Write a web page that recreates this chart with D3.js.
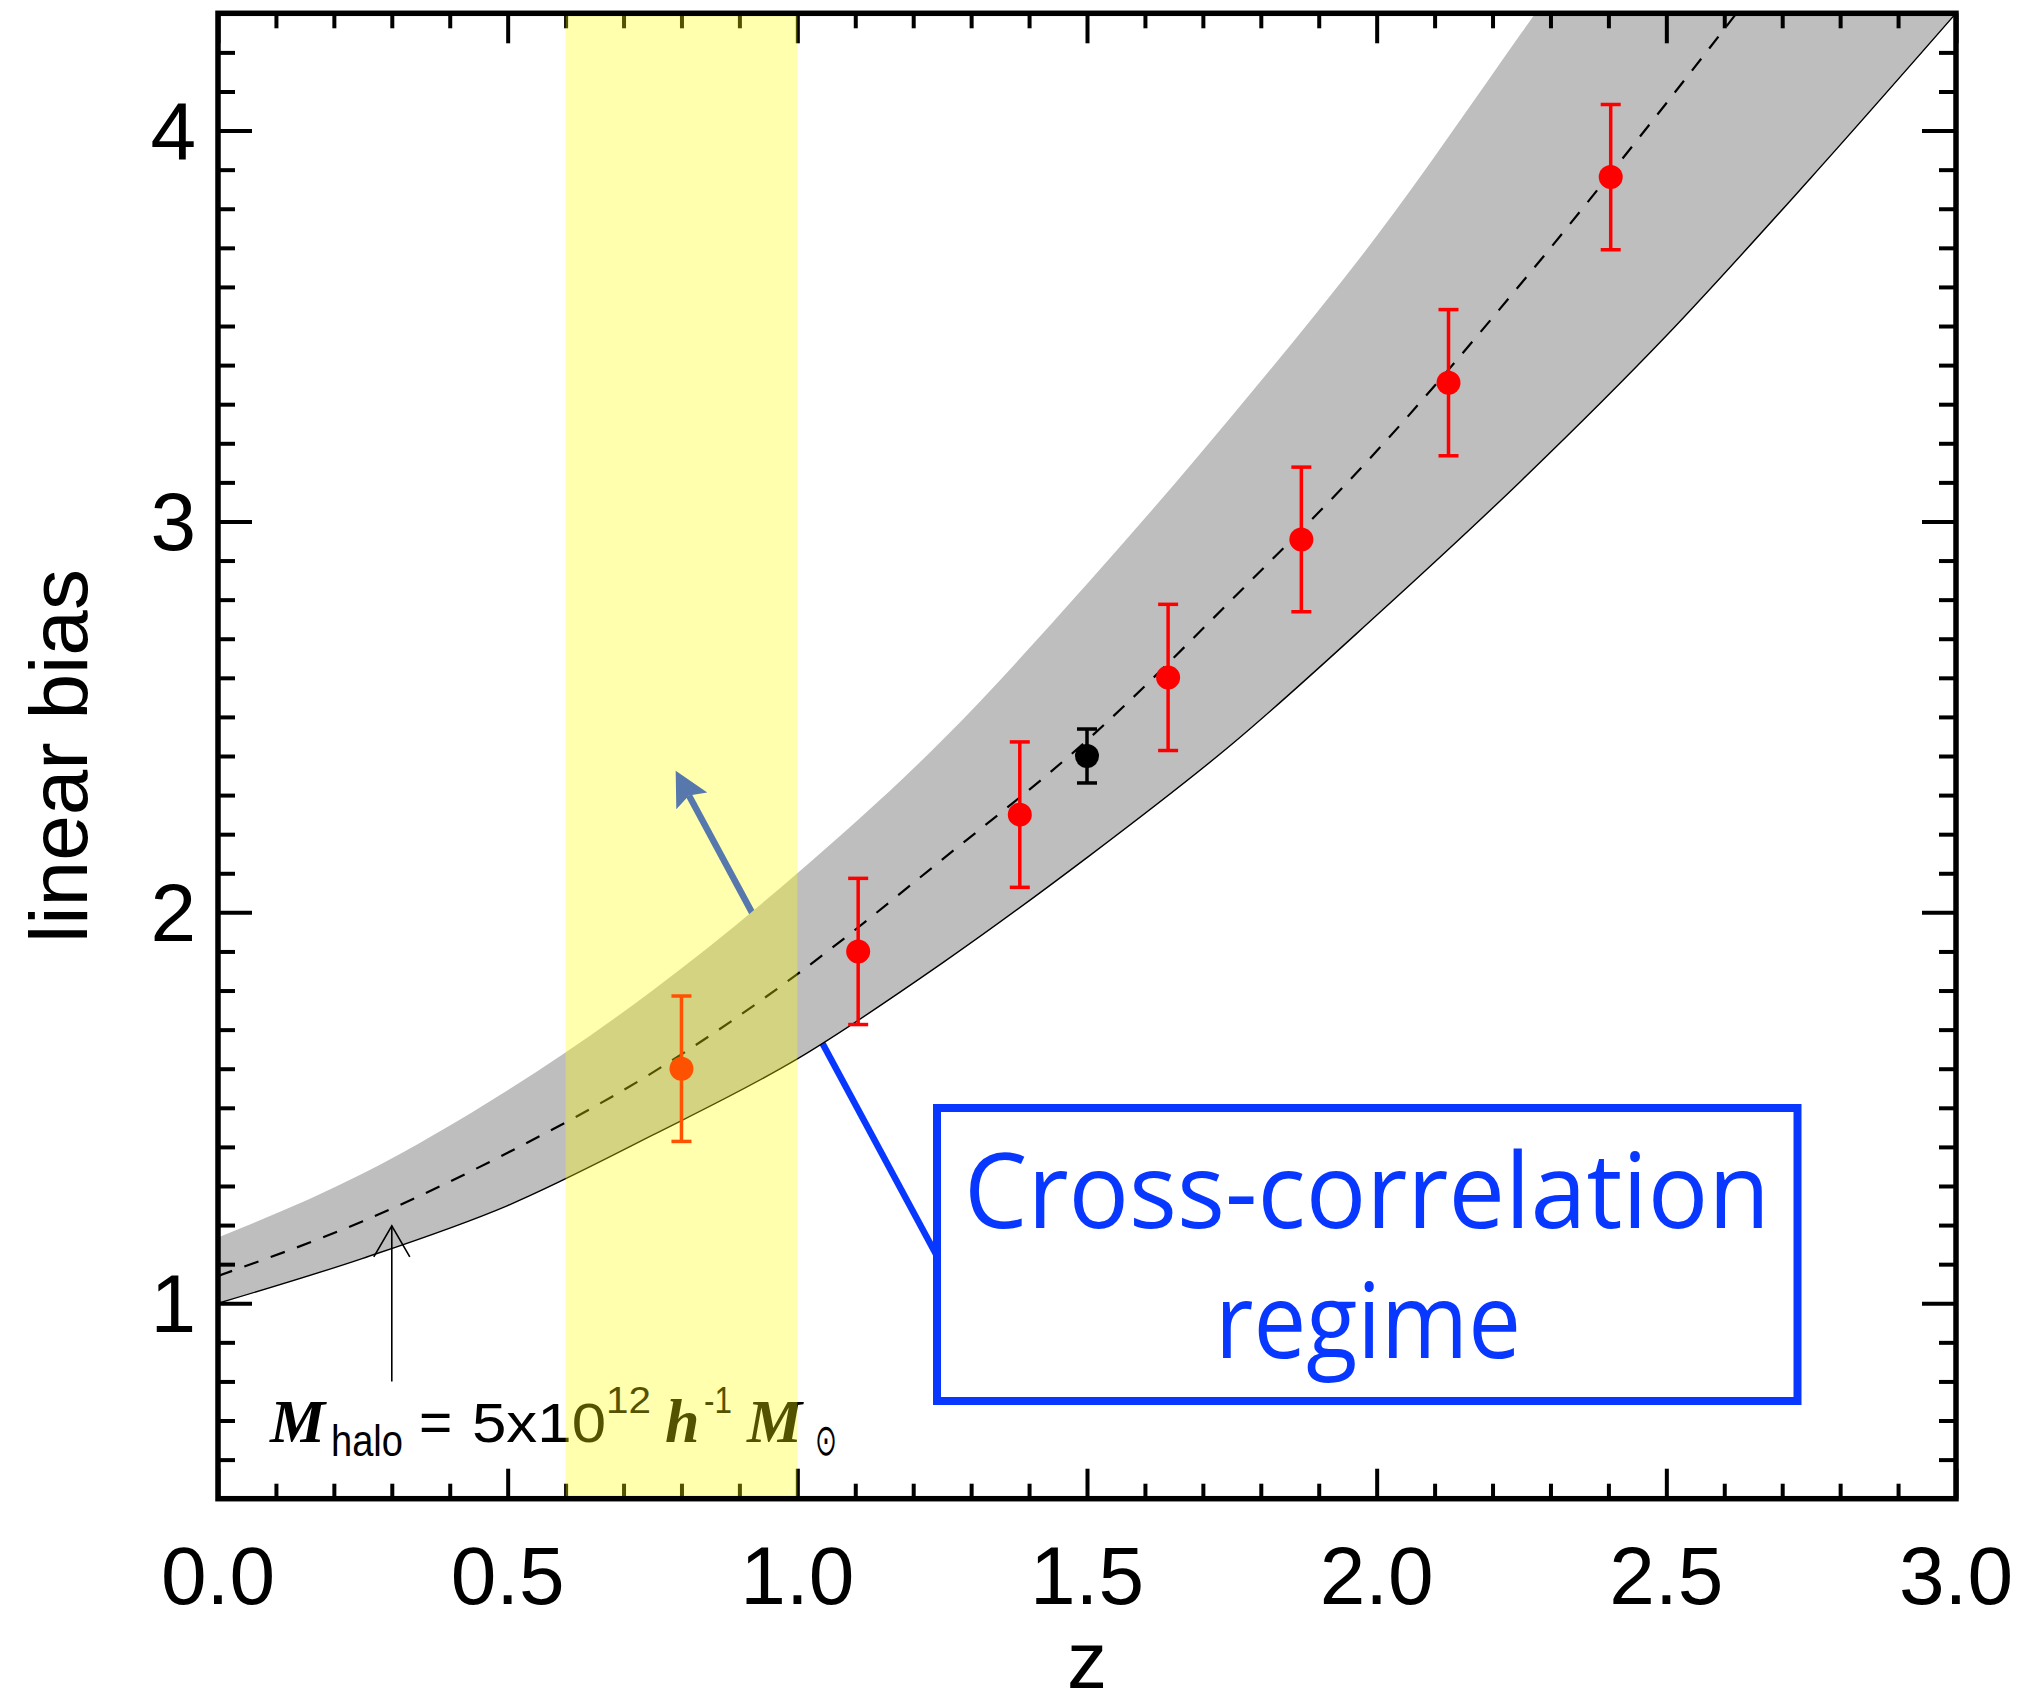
<!DOCTYPE html>
<html>
<head>
<meta charset="utf-8">
<script src="https://cdn.jsdelivr.net/npm/d3@7"></script>
<style>
html,body{margin:0;padding:0;background:#fff;}
svg{display:block;}
</style>
</head>
<body>
<svg id="chart" width="2027" height="1698"></svg>
<script>
// ---------------- data ----------------
const zGrid      = [0, 0.25, 0.5, 0.75, 1.0, 1.25, 1.5, 1.75, 2.0, 2.25, 2.5, 2.75, 3.0];
const bandUpper  = [1.168, 1.332, 1.545, 1.80, 2.10, 2.44, 2.84, 3.27, 3.73, 4.25, 4.78, 5.32, 5.90];
const bandLower  = [1.00, 1.115, 1.25, 1.43, 1.625, 1.87, 2.14, 2.43, 2.76, 3.105, 3.475, 3.88, 4.30];
const modelMid   = [1.07, 1.21, 1.385, 1.59, 1.842, 2.135, 2.44, 2.80, 3.18, 3.61, 4.07, 4.55, 5.05];

const pointZ     = [0.80, 1.105, 1.384, 1.640, 1.870, 2.124, 2.404];
const pointB     = [1.600, 1.900, 2.250, 2.601, 2.954, 3.355, 3.881];
const pointErr   = [0.186, 0.187, 0.186, 0.187, 0.185, 0.187, 0.186];

const blackZ     = [1.50];
const blackB     = [2.40];
const blackErr   = [0.069];

const regimeZ    = [0.6, 1.0];
const xTickVals  = [0.0, 0.5, 1.0, 1.5, 2.0, 2.5, 3.0];
const xTickText  = ["0.0", "0.5", "1.0", "1.5", "2.0", "2.5", "3.0"];
const yTickVals  = [1, 2, 3, 4];
const yTickText  = ["1", "2", "3", "4"];

// ---------------- layout ----------------
const svg = d3.select("#chart");
const L = 218, R = 1956, T = 13.3, B = 1498.7;
const x = d3.scaleLinear().domain([0, 3]).range([L, R]);
const y = d3.scaleLinear().domain([0.5, 4.3]).range([B, T]);

const SANS = "'Liberation Sans', Arial, Helvetica, sans-serif";
const SERIF = "'Liberation Serif', 'Times New Roman', serif";
const BLUE = "#0838ff";

svg.append("defs").append("clipPath").attr("id", "plotclip")
  .append("rect").attr("x", L).attr("y", T).attr("width", R - L).attr("height", B - T);

const plot = svg.append("g").attr("clip-path", "url(#plotclip)");

// ---- blue annotation arrow (under the band) ----
const arrowTail = {z: 1.241, b: 1.121};
const arrowTip  = {z: 0.790, b: 2.362};
{
  const x1 = x(arrowTail.z), y1 = y(arrowTail.b), x2 = x(arrowTip.z), y2 = y(arrowTip.b);
  const dx = x2 - x1, dy = y2 - y1, len = Math.hypot(dx, dy);
  const ux = dx / len, uy = dy / len, px = -uy, py = ux;
  const hl = 34, hw = 17.6, notch = 28;
  plot.append("line")
    .attr("x1", x1).attr("y1", y1)
    .attr("x2", x2 - ux * notch).attr("y2", y2 - uy * notch)
    .attr("stroke", BLUE).attr("stroke-width", 6.5);
  const bx = x2 - ux * hl, by = y2 - uy * hl;
  plot.append("polygon")
    .attr("points", [
      [x2, y2],
      [bx + px * hw, by + py * hw],
      [x2 - ux * notch, y2 - uy * notch],
      [bx - px * hw, by - py * hw]
    ].map(p => p.join(",")).join(" "))
    .attr("fill", BLUE);
}

// ---- grey band ----
const bandData = zGrid.map((z, i) => ({z, lo: bandLower[i], hi: bandUpper[i], mid: modelMid[i]}));
plot.append("path").datum(bandData)
  .attr("d", d3.area().x(d => x(d.z)).y0(d => y(d.lo)).y1(d => y(d.hi)).curve(d3.curveMonotoneX))
  .attr("fill", "#bebebe");

plot.append("path").datum(bandData)
  .attr("d", d3.line().x(d => x(d.z)).y(d => y(d.lo)).curve(d3.curveMonotoneX))
  .attr("fill", "none").attr("stroke", "#000").attr("stroke-width", 1.4);

plot.append("path").datum(bandData)
  .attr("d", d3.line().x(d => x(d.z)).y(d => y(d.mid)).curve(d3.curveMonotoneX))
  .attr("fill", "none").attr("stroke", "#000").attr("stroke-width", 2.2)
  .attr("stroke-dasharray", "15,13");

// ---- data points ----
function drawPoints(zs, bs, es, color) {
  const g = plot.append("g");
  zs.forEach((z, i) => {
    const cx = x(z);
    g.append("line").attr("x1", cx).attr("x2", cx)
      .attr("y1", y(bs[i] - es[i])).attr("y2", y(bs[i] + es[i]))
      .attr("stroke", color).attr("stroke-width", 3.5);
    [bs[i] - es[i], bs[i] + es[i]].forEach(v => {
      g.append("line").attr("x1", cx - 10).attr("x2", cx + 10)
        .attr("y1", y(v)).attr("y2", y(v))
        .attr("stroke", color).attr("stroke-width", 3.5);
    });
    g.append("circle").attr("cx", cx).attr("cy", y(bs[i])).attr("r", 12).attr("fill", color);
  });
}
drawPoints(pointZ, pointB, pointErr, "#ff0000");
drawPoints(blackZ, blackB, blackErr, "#000000");

// ---- small black arrow ----
const mArrow = {z: 0.30, b0: 0.80, b1: 1.198};
{
  const ax = x(mArrow.z), yTop = y(mArrow.b1);
  plot.append("line").attr("x1", ax).attr("x2", ax)
    .attr("y1", y(mArrow.b0)).attr("y2", yTop)
    .attr("stroke", "#000").attr("stroke-width", 1.6);
  plot.append("polyline")
    .attr("points", `${ax - 18},${yTop + 31} ${ax},${yTop} ${ax + 18},${yTop + 31}`)
    .attr("fill", "none").attr("stroke", "#000").attr("stroke-width", 1.6);
}

// ---- M_halo label ----
const lab = svg.append("g").attr("fill", "#000");
lab.append("text").attr("x", 270).attr("y", 1442).attr("font-family", SERIF)
  .attr("font-weight", "bold").attr("font-style", "italic").attr("font-size", 62).text("M");
lab.append("text").attr("x", 331).attr("y", 1456).attr("font-family", SANS)
  .attr("font-size", 45).attr("textLength", 72).attr("lengthAdjust", "spacingAndGlyphs").text("halo");
lab.append("text").attr("x", 419).attr("y", 1442).attr("font-family", SANS)
  .attr("font-size", 57).text("=");
lab.append("text").attr("x", 472).attr("y", 1442).attr("font-family", SANS)
  .attr("font-size", 56).attr("textLength", 134).attr("lengthAdjust", "spacingAndGlyphs").text("5x10");
lab.append("text").attr("x", 606).attr("y", 1413).attr("font-family", SANS)
  .attr("font-size", 37).attr("textLength", 45).attr("lengthAdjust", "spacingAndGlyphs").text("12");
lab.append("text").attr("x", 665).attr("y", 1442).attr("font-family", SERIF)
  .attr("font-weight", "bold").attr("font-style", "italic").attr("font-size", 62).text("h");
lab.append("text").attr("x", 704).attr("y", 1413).attr("font-family", SANS)
  .attr("font-size", 37).attr("textLength", 28).attr("lengthAdjust", "spacingAndGlyphs").text("-1");
lab.append("text").attr("x", 747).attr("y", 1442).attr("font-family", SERIF)
  .attr("font-weight", "bold").attr("font-style", "italic").attr("font-size", 62).text("M");
lab.append("text").attr("x", 815).attr("y", 1455).attr("font-family", "'DejaVu Sans', sans-serif")
  .attr("font-size", 44).attr("textLength", 22).attr("lengthAdjust", "spacingAndGlyphs").text("\u2299");

// ---- ticks (drawn before the yellow overlay) ----
const minorX = d3.range(1, 30).map(i => i / 10).filter(v => Math.abs(v * 2 - Math.round(v * 2)) > 1e-6);
const minorY = d3.range(6, 43).map(i => i / 10).filter(v => Math.abs(v - Math.round(v)) > 1e-6);

function styleAxis(g) {
  g.select(".domain").remove();
  g.selectAll(".tick line").attr("stroke", "#000").attr("stroke-width", 4);
  g.selectAll(".tick text").remove();
}
const axes = svg.append("g");
axes.append("g").attr("transform", `translate(0,${B})`)
  .call(d3.axisBottom(x).tickValues(xTickVals).tickSize(-30).tickFormat("")).call(styleAxis);
axes.append("g").attr("transform", `translate(0,${B})`)
  .call(d3.axisBottom(x).tickValues(minorX).tickSize(-15).tickFormat("")).call(styleAxis);
axes.append("g").attr("transform", `translate(0,${T})`)
  .call(d3.axisTop(x).tickValues(xTickVals).tickSize(-30).tickFormat("")).call(styleAxis);
axes.append("g").attr("transform", `translate(0,${T})`)
  .call(d3.axisTop(x).tickValues(minorX).tickSize(-15).tickFormat("")).call(styleAxis);
axes.append("g").attr("transform", `translate(${L},0)`)
  .call(d3.axisLeft(y).tickValues(yTickVals).tickSize(-34).tickFormat("")).call(styleAxis);
axes.append("g").attr("transform", `translate(${L},0)`)
  .call(d3.axisLeft(y).tickValues(minorY).tickSize(-17).tickFormat("")).call(styleAxis);
axes.append("g").attr("transform", `translate(${R},0)`)
  .call(d3.axisRight(y).tickValues(yTickVals).tickSize(-34).tickFormat("")).call(styleAxis);
axes.append("g").attr("transform", `translate(${R},0)`)
  .call(d3.axisRight(y).tickValues(minorY).tickSize(-17).tickFormat("")).call(styleAxis);

// ---- yellow regime overlay ----
svg.append("rect")
  .attr("x", x(regimeZ[0])).attr("y", T)
  .attr("width", x(regimeZ[1]) - x(regimeZ[0])).attr("height", B - T)
  .attr("fill", "#ffff00").attr("fill-opacity", 0.32);

// ---- frame ----
svg.append("rect").attr("x", L).attr("y", T).attr("width", R - L).attr("height", B - T)
  .attr("fill", "none").attr("stroke", "#000").attr("stroke-width", 5.5);

// ---- tick labels ----
svg.append("g").selectAll("text").data(xTickVals).join("text")
  .attr("x", d => x(d)).attr("y", 1604)
  .attr("text-anchor", "middle").attr("font-family", SANS).attr("font-size", 82)
  .text((d, i) => xTickText[i]);
svg.append("g").selectAll("text").data(yTickVals).join("text")
  .attr("x", 196).attr("y", d => y(d) + 29)
  .attr("text-anchor", "end").attr("font-family", SANS).attr("font-size", 82)
  .text((d, i) => yTickText[i]);

// ---- axis titles ----
svg.append("text").attr("x", x(1.5)).attr("y", 1688)
  .attr("text-anchor", "middle").attr("font-family", SANS).attr("font-size", 80).text("z");
svg.append("text").attr("transform", `translate(87,${(T + B) / 2}) rotate(-90)`)
  .attr("text-anchor", "middle").attr("font-family", SANS).attr("font-size", 82).text("linear bias");

// ---- cross-correlation box ----
svg.append("rect").attr("x", 937).attr("y", 1108).attr("width", 860.5).attr("height", 293)
  .attr("fill", "#fff").attr("stroke", BLUE).attr("stroke-width", 8);
svg.append("text").attr("x", 1367).attr("y", 1228).attr("text-anchor", "middle")
  .attr("font-family", "'Open Sans', sans-serif").attr("font-size", 104).attr("fill", BLUE)
  .attr("textLength", 806).attr("lengthAdjust", "spacingAndGlyphs").text("Cross-correlation");
svg.append("text").attr("x", 1368).attr("y", 1358).attr("text-anchor", "middle")
  .attr("font-family", "'Open Sans', sans-serif").attr("font-size", 104).attr("fill", BLUE)
  .attr("textLength", 306).attr("lengthAdjust", "spacingAndGlyphs").text("regime");
</script>
</body>
</html>
